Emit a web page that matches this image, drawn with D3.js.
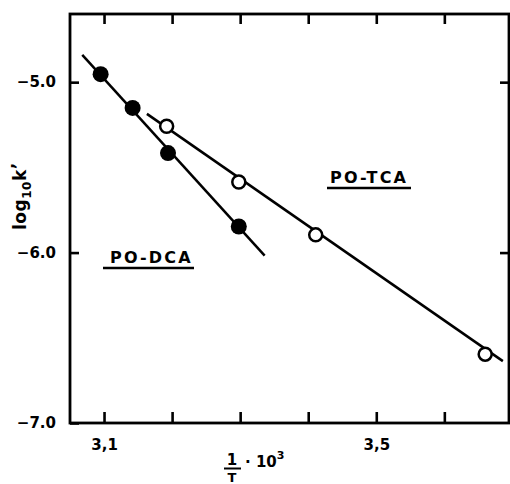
<!DOCTYPE html>
<html>
<head>
<meta charset="utf-8">
<script src="https://cdn.jsdelivr.net/npm/d3@7"></script>
<style>
  body { margin: 0; background: #fff; }
  text { font-family: "DejaVu Sans", sans-serif; font-weight: bold; fill: #000; }
</style>
</head>
<body>
<script>
// values (x = 1/T * 10^3, y = log10 k')
const dcaX = [3.095, 3.142, 3.194, 3.298];
const dcaY = [-4.953, -5.151, -5.416, -5.847];
const tcaX = [3.192, 3.298, 3.411, 3.660];
const tcaY = [-5.259, -5.586, -5.896, -6.596];

// drawn fit lines (end points)
const dcaFitX = [3.068, 3.336];
const dcaFitY = [-4.840, -6.018];
const tcaFitX = [3.163, 3.686];
const tcaFitY = [-5.186, -6.637];

const xTicks = [3.1, 3.2, 3.3, 3.4, 3.5, 3.6];
const xTickLabels = { 3.1: "3,1", 3.5: "3,5" };
const yTicks = [-5.0, -6.0, -7.0];

const width = 510, height = 484;
const margin = { top: 14, right: 1, bottom: 61, left: 70 };
const innerWidth = width - margin.left - margin.right;
const innerHeight = height - margin.top - margin.bottom;

const svg = d3.select('body').append('svg')
    .attr('width', width)
    .attr('height', height);

const g = svg.append('g')
    .attr('transform', `translate(${margin.left},${margin.top})`);

const xScale = d3.scaleLinear()
    .domain([3.05, 3.695])
    .range([0, innerWidth]);

const yScale = d3.scaleLinear()
    .domain([-7.0, -4.6])
    .range([innerHeight, 0]);

// frame
g.append('rect')
    .attr('width', innerWidth)
    .attr('height', innerHeight)
    .attr('fill', 'none')
    .attr('stroke', '#000')
    .attr('stroke-width', 2.8);

// axes, ticks pointing inward
const bottomAxis = g.append('g')
    .attr('transform', `translate(0,${innerHeight})`)
    .call(d3.axisBottom(xScale).tickValues(xTicks).tickSize(-11)
        .tickPadding(16).tickFormat(d => xTickLabels[d] || ''));
const topAxis = g.append('g')
    .call(d3.axisTop(xScale).tickValues(xTicks).tickSize(-10).tickFormat(''));
const leftAxis = g.append('g')
    .call(d3.axisLeft(yScale).tickValues(yTicks).tickSize(-9)
        .tickPadding(16).tickFormat(d => d3.format('.1f')(d)));
const rightAxis = g.append('g')
    .attr('transform', `translate(${innerWidth},0)`)
    .call(d3.axisRight(yScale).tickValues([-5.0, -6.0]).tickSize(-9).tickFormat(''));

[bottomAxis, topAxis, leftAxis, rightAxis].forEach(a => {
    a.select('.domain').remove();
    a.selectAll('.tick line').attr('stroke-width', 2.6);
    a.selectAll('.tick text')
        .attr('font-size', 15)
        .attr('font-family', '"DejaVu Sans", sans-serif')
        .filter(function() { return this.textContent === ''; })
        .remove();
});
leftAxis.selectAll('.tick text').attr('dx', 2);

// fit lines
const line = d3.line().x(d => xScale(d[0])).y(d => yScale(d[1]));
g.append('path')
    .datum(d3.zip(dcaFitX, dcaFitY))
    .attr('d', line)
    .attr('fill', 'none').attr('stroke', '#000').attr('stroke-width', 2.5);
g.append('path')
    .datum(d3.zip(tcaFitX, tcaFitY))
    .attr('d', line)
    .attr('fill', 'none').attr('stroke', '#000').attr('stroke-width', 2.5);

// points
g.selectAll('circle.dca')
    .data(d3.zip(dcaX, dcaY))
    .enter().append('circle')
    .attr('class', 'dca')
    .attr('cx', d => xScale(d[0]))
    .attr('cy', d => yScale(d[1]))
    .attr('r', 8)
    .attr('fill', '#000');

g.selectAll('circle.tca')
    .data(d3.zip(tcaX, tcaY))
    .enter().append('circle')
    .attr('class', 'tca')
    .attr('cx', d => xScale(d[0]))
    .attr('cy', d => yScale(d[1]))
    .attr('r', 6.5)
    .attr('fill', '#fff')
    .attr('stroke', '#000')
    .attr('stroke-width', 2.5);

// series labels, underlined
function seriesLabel(txt, x, y, ux0, ux1) {
    svg.append('text')
        .attr('x', x).attr('y', y)
        .attr('font-size', 16)
        .attr('letter-spacing', 2.2)
        .text(txt);
    svg.append('line')
        .attr('x1', ux0).attr('x2', ux1)
        .attr('y1', y + 5).attr('y2', y + 5)
        .attr('stroke', '#000').attr('stroke-width', 2.4);
}
seriesLabel('PO-TCA', 330, 183, 327, 411);
seriesLabel('PO-DCA', 110, 263, 103, 194);

// y axis title
const yt = svg.append('text')
    .attr('transform', 'translate(26,230) rotate(-90)')
    .attr('font-size', 17)
    .attr('letter-spacing', 0.5);
yt.append('tspan').text('log');
yt.append('tspan').attr('font-size', 12).attr('dy', 5).text('10');
yt.append('tspan').attr('dy', -5).text('k');
yt.append('tspan').attr('dy', -2).text('\u2019');

// x axis title: 1/T · 10^3
svg.append('text').attr('x', 232).attr('y', 465)
    .attr('text-anchor', 'middle').attr('font-size', 15).text('1');
svg.append('line')
    .attr('x1', 224).attr('x2', 241).attr('y1', 468.5).attr('y2', 468.5)
    .attr('stroke', '#000').attr('stroke-width', 2);
svg.append('text').attr('x', 232).attr('y', 482)
    .attr('text-anchor', 'middle').attr('font-size', 13).text('T');
svg.append('text').attr('x', 245).attr('y', 467)
    .attr('font-size', 15)
    .text('\u00b7 10')
    .append('tspan').attr('font-size', 11).attr('dy', -8).text('3');
</script>
</body>
</html>
